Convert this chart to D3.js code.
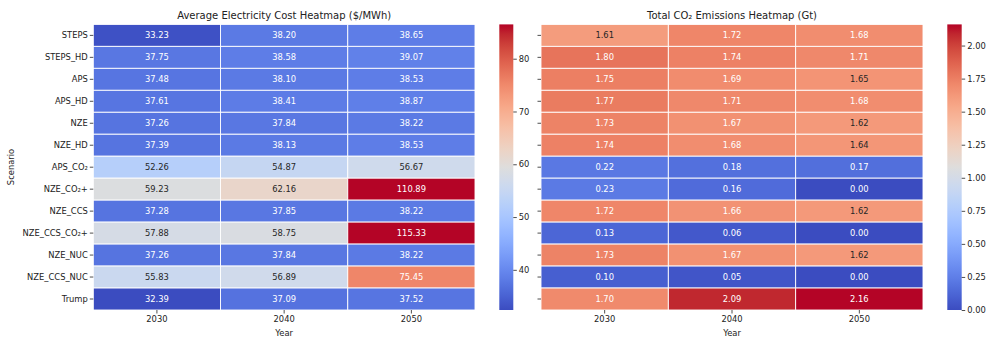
<!DOCTYPE html>
<html>
<head>
<meta charset="utf-8">
<script src="https://cdn.jsdelivr.net/npm/d3@7"></script>
<style>
  html, body { margin: 0; padding: 0; background: #fff; }
  svg { display: block; font-family: "DejaVu Sans", sans-serif; }
</style>
</head>
<body>
<svg id="chart" width="987" height="338"></svg>
<script>
// Scenario rows and year columns
const scenarios = ["STEPS", "STEPS_HD", "APS", "APS_HD", "NZE", "NZE_HD", "APS_CO\u2082",
  "NZE_CO\u2082+", "NZE_CCS", "NZE_CCS_CO\u2082+", "NZE_NUC", "NZE_CCS_NUC", "Trump"];
const years = ["2030", "2040", "2050"];

// Average electricity cost ($/MWh), one array per year
const cost2030 = [33.23, 37.75, 37.48, 37.61, 37.26, 37.39, 52.26, 59.23, 37.28, 57.88, 37.26, 55.83, 32.39];
const cost2040 = [38.20, 38.58, 38.10, 38.41, 37.84, 38.13, 54.87, 62.16, 37.85, 58.75, 37.84, 56.89, 37.09];
const cost2050 = [38.65, 39.07, 38.53, 38.87, 38.22, 38.53, 56.67, 110.89, 38.22, 115.33, 38.22, 75.45, 37.52];

// Total CO2 emissions (Gt), one array per year
const co2_2030 = [1.61, 1.80, 1.75, 1.77, 1.73, 1.74, 0.22, 0.23, 1.72, 0.13, 1.73, 0.10, 1.70];
const co2_2040 = [1.72, 1.74, 1.69, 1.71, 1.67, 1.68, 0.18, 0.16, 1.66, 0.06, 1.67, 0.05, 2.09];
const co2_2050 = [1.68, 1.71, 1.65, 1.68, 1.62, 1.64, 0.17, 0.00, 1.62, 0.00, 1.62, 0.00, 2.16];

// Colour ranges and colourbar ticks
const costDomain = [32.39, 86.5];
const co2Domain = [0, 2.16];
const costTicks = [40, 50, 60, 70, 80];
const co2Ticks = [0, 0.25, 0.5, 0.75, 1.0, 1.25, 1.5, 1.75, 2.0];

// Diverging cool-warm colour map (33 control points)
const coolwarmStops = [
  [59,76,192],[68,90,204],[77,104,215],[87,117,225],[98,130,234],[108,142,241],[119,154,247],
  [130,165,251],[141,176,254],[152,185,255],[163,194,255],[174,201,253],[184,208,249],
  [194,213,244],[204,217,238],[213,219,230],[221,221,221],[229,216,209],[236,211,197],
  [241,204,185],[245,196,173],[247,187,160],[247,177,148],[247,166,135],[244,154,123],
  [241,141,111],[236,127,99],[229,112,88],[222,96,77],[213,80,66],[203,62,56],[192,40,47],[180,4,38]
];
const coolwarmInterp = d3.piecewise(d3.interpolateRgb, coolwarmStops.map(c => d3.rgb(c[0], c[1], c[2])));
// 256-entry lookup, like a discrete colormap
function coolwarm(x) {
  x = Math.max(0, Math.min(1, x));
  const idx = Math.min(255, Math.floor(x * 256));
  return coolwarmInterp(idx / 255);
}
function luminance(c) {
  const rgb = d3.rgb(c);
  const lin = v => { v /= 255; return v <= 0.03928 ? v / 12.92 : Math.pow((v + 0.055) / 1.055, 2.4); };
  return 0.2126 * lin(rgb.r) + 0.7152 * lin(rgb.g) + 0.0722 * lin(rgb.b);
}

const svg = d3.select("#chart");
const plotTop = 24.4, plotBottom = 310;
const TICK_FS = 8.35, TITLE_FS = 10;
const textColor = "#262626";

let gradId = 0;

function heatmap(opts) {
  const { x0, x1, cb0, cb1, columns, domain, fmt, title, showY, cbTicks, cbFmt } = opts;
  const g = svg.append("g");
  const x = d3.scaleBand().domain(years).range([x0, x1]).padding(0);
  const y = d3.scaleBand().domain(scenarios).range([plotTop, plotBottom]).padding(0);
  const norm = d3.scaleLinear().domain(domain).range([0, 1]);

  const cells = [];
  years.forEach((yr, j) => {
    columns[j].forEach((v, i) => cells.push({ yr, sc: scenarios[i], v }));
  });

  g.selectAll("rect.cell").data(cells).join("rect")
    .attr("class", "cell")
    .attr("x", d => x(d.yr))
    .attr("y", d => y(d.sc))
    .attr("width", x.bandwidth())
    .attr("height", y.bandwidth())
    .attr("fill", d => coolwarm(norm(d.v)))
    .attr("stroke", "#fff")
    .attr("stroke-width", 0.9);

  g.selectAll("text.annot").data(cells).join("text")
    .attr("class", "annot")
    .attr("x", d => x(d.yr) + x.bandwidth() / 2)
    .attr("y", d => y(d.sc) + y.bandwidth() / 2)
    .attr("dy", "0.36em")
    .attr("text-anchor", "middle")
    .attr("font-size", TICK_FS)
    .attr("fill", d => luminance(coolwarm(norm(d.v))) > 0.408 ? textColor : "#fff")
    .text(d => fmt(d.v));

  // x axis
  const xAxis = d3.axisBottom(x).tickSize(3.5).tickPadding(2.5);
  const gx = g.append("g").attr("transform", `translate(0,${plotBottom})`).call(xAxis);
  gx.select(".domain").remove();
  gx.selectAll("line").attr("stroke", "#222").attr("stroke-width", 0.8);
  gx.selectAll("text").attr("font-size", TICK_FS).attr("fill", "#222").attr("font-family", "DejaVu Sans");

  g.append("text")
    .attr("x", (x0 + x1) / 2).attr("y", 336)
    .attr("text-anchor", "middle").attr("font-size", TICK_FS).attr("fill", "#222")
    .text("Year");

  // y axis
  const yAxis = d3.axisLeft(y).tickSize(3.5).tickPadding(2);
  if (!showY) yAxis.tickFormat("");
  const gy = g.append("g").attr("transform", `translate(${x0},0)`).call(yAxis);
  gy.select(".domain").remove();
  gy.selectAll("line").attr("stroke", "#222").attr("stroke-width", 0.8);
  gy.selectAll("text").attr("font-size", TICK_FS).attr("fill", "#222").attr("font-family", "DejaVu Sans");

  // title
  g.append("text")
    .attr("x", (x0 + x1) / 2).attr("y", 19)
    .attr("text-anchor", "middle").attr("font-size", TITLE_FS).attr("fill", "#222")
    .text(title);

  // colourbar
  const id = "grad" + (gradId++);
  const grad = svg.append("defs").append("linearGradient")
    .attr("id", id).attr("x1", 0).attr("y1", 1).attr("x2", 0).attr("y2", 0);
  d3.range(0, 257, 4).forEach(k => {
    const t = Math.min(1, k / 256);
    grad.append("stop").attr("offset", t).attr("stop-color", coolwarm(t));
  });
  g.append("rect")
    .attr("x", cb0).attr("y", plotTop)
    .attr("width", cb1 - cb0).attr("height", plotBottom - plotTop)
    .attr("fill", `url(#${id})`);
  const cy = d3.scaleLinear().domain(domain).range([plotBottom, plotTop]);
  const cAxis = d3.axisRight(cy).tickValues(cbTicks).tickFormat(cbFmt).tickSize(3.5).tickPadding(2);
  const gc = g.append("g").attr("transform", `translate(${cb1},0)`).call(cAxis);
  gc.select(".domain").remove();
  gc.selectAll("line").attr("stroke", "#222").attr("stroke-width", 0.8);
  gc.selectAll("text").attr("font-size", TICK_FS).attr("fill", "#222").attr("font-family", "DejaVu Sans");
}

heatmap({
  x0: 93.3, x1: 475, cb0: 499.3, cb1: 513.3,
  columns: [cost2030, cost2040, cost2050],
  domain: costDomain, fmt: d3.format(".2f"),
  title: "Average Electricity Cost Heatmap ($/MWh)",
  showY: true, cbTicks: costTicks, cbFmt: d3.format("d")
});

heatmap({
  x0: 541, x1: 923, cb0: 947.3, cb1: 961.7,
  columns: [co2_2030, co2_2040, co2_2050],
  domain: co2Domain, fmt: d3.format(".2f"),
  title: "Total CO\u2082 Emissions Heatmap (Gt)",
  showY: false, cbTicks: co2Ticks, cbFmt: d3.format(".2f")
});

// y axis title
svg.append("text")
  .attr("transform", "translate(14,167) rotate(-90)")
  .attr("text-anchor", "middle").attr("font-size", TICK_FS).attr("fill", "#222")
  .text("Scenario");
</script>
</body>
</html>
